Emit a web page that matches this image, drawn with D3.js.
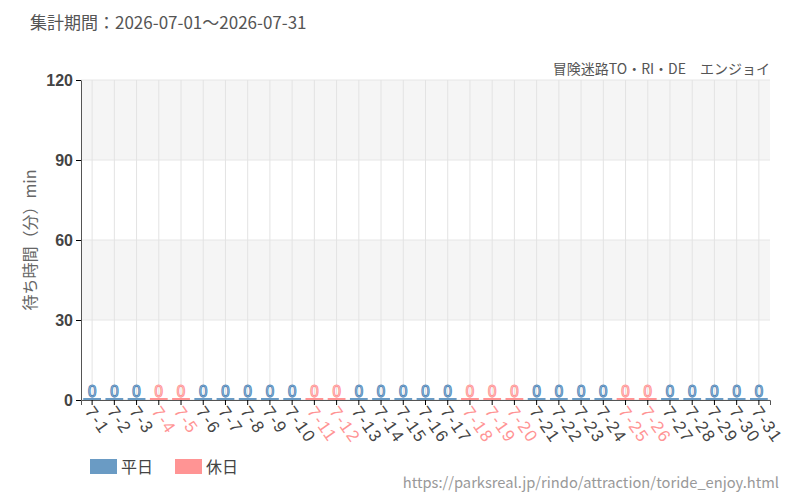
<!DOCTYPE html>
<html>
<head>
<meta charset="utf-8">
<script src="https://cdn.jsdelivr.net/npm/d3@7"></script>
<style>
  body { margin: 0; background: #fff; }
  svg { font-family: "Noto Sans CJK JP", "Noto Sans", sans-serif; }
</style>
</head>
<body>
<div id="chart"></div>
<script>
// chart data
const days = ['7-1','7-2','7-3','7-4','7-5','7-6','7-7','7-8','7-9','7-10','7-11','7-12','7-13','7-14','7-15','7-16',
  '7-17','7-18','7-19','7-20','7-21','7-22','7-23','7-24','7-25','7-26','7-27','7-28','7-29','7-30','7-31'];
const waitTimes = [0,0,0,0,0,0,0,0,0,0,0,0,0,0,0,0,0,0,0,0,0,0,0,0,0,0,0,0,0,0,0];
const holidays = ['7-4','7-5','7-11','7-12','7-18','7-19','7-20','7-25','7-26'];
const yTicks = [0, 30, 60, 90, 120];
const legendItems = ['平日', '休日'];

const width = 800;
const height = 500;
const margin = {top: 80, right: 30, bottom: 100, left: 81};
const colWeek = '#6a9bc4';
const colHoli = '#ff9494';

const svg = d3.select('#chart').append('svg')
  .attr('width', width)
  .attr('height', height);

const data = days.map((d, i) => ({day: d, value: waitTimes[i], holiday: holidays.includes(d)}));

const x = d3.scaleBand().domain(days)
  .range([margin.left, width - margin.right]);
const y = d3.scaleLinear().domain([0, 120])
  .range([height - margin.bottom, margin.top]);

// alternating bands
const bands = d3.pairs(yTicks);
svg.append('g').selectAll('rect').data(bands).join('rect')
  .attr('x', margin.left)
  .attr('width', width - margin.right - margin.left)
  .attr('y', d => y(d[1]))
  .attr('height', d => y(d[0]) - y(d[1]))
  .attr('fill', (d, i) => i % 2 === 1 ? '#f5f5f5' : '#fff');

// grid lines
svg.append('g').selectAll('line').data(yTicks).join('line')
  .attr('x1', margin.left).attr('x2', width - margin.right)
  .attr('y1', d => y(d)).attr('y2', d => y(d))
  .attr('stroke', '#e6e6e6');
svg.append('g').selectAll('line').data(days).join('line')
  .attr('x1', d => x(d) + x.bandwidth() / 2).attr('x2', d => x(d) + x.bandwidth() / 2)
  .attr('y1', y(120)).attr('y2', y(0))
  .attr('stroke', '#e3e3e3');

// bars (zero values show as a thin line on the baseline)
svg.append('g').selectAll('rect').data(data).join('rect')
  .attr('x', d => x(d.day) + x.bandwidth() * 0.1)
  .attr('width', x.bandwidth() * 0.8)
  .attr('y', d => Math.min(y(d.value), y(0) - 2))
  .attr('height', d => Math.max(y(0) - y(d.value), 2))
  .attr('fill', d => d.holiday ? colHoli : colWeek);

// value labels
svg.append('g').selectAll('text').data(data).join('text')
  .attr('x', d => x(d.day) + x.bandwidth() / 2)
  .attr('y', d => y(d.value) - 3)
  .attr('text-anchor', 'middle')
  .attr('font-size', 16)
  .attr('fill', '#fff')
  .attr('stroke', d => d.holiday ? colHoli : '#4f86b8')
  .attr('stroke-width', 1)
  .text(d => d.value);

// axes
const xAxis = svg.append('g')
  .attr('transform', 'translate(0,' + y(0) + ')')
  .call(d3.axisBottom(x).tickSizeOuter(0).tickSize(5));
xAxis.select('.domain').attr('stroke', '#555');
xAxis.selectAll('.tick line').attr('stroke', '#000');
xAxis.selectAll('.tick text')
  .attr('font-size', 17)
  .attr('letter-spacing', '1.5px')
  .attr('fill', d => holidays.includes(d) ? colHoli : '#444')
  .attr('text-anchor', 'start')
  .attr('x', 0).attr('y', 0)
  .attr('dy', '0.35em')
  .attr('transform', 'translate(-3,8) rotate(55)');

const yAxis = svg.append('g')
  .attr('transform', 'translate(' + margin.left + ',0)')
  .call(d3.axisLeft(y).tickValues(yTicks).tickSize(5).tickSizeOuter(0));
yAxis.select('.domain').attr('stroke', '#555');
yAxis.selectAll('.tick line').attr('stroke', '#000');
yAxis.selectAll('.tick text')
  .attr('font-size', 16)
  .attr('font-weight', 'bold')
  .attr('fill', '#444')
  .attr('x', -8);

// titles
svg.append('text')
  .attr('x', 30).attr('y', 29)
  .attr('font-size', 17).attr('fill', '#555')
  .text('集計期間：2026-07-01～2026-07-31');

svg.append('text')
  .attr('x', width - margin.right).attr('y', 74)
  .attr('text-anchor', 'end')
  .attr('font-size', 14).attr('fill', '#555')
  .text('冒険迷路TO・RI・DE　エンジョイ');

svg.append('text')
  .attr('transform', 'translate(36,' + (y(60)) + ') rotate(-90)')
  .attr('text-anchor', 'middle')
  .attr('font-size', 16).attr('fill', '#666')
  .text('待ち時間（分）min');

// legend
const legend = svg.append('g').attr('transform', 'translate(90,459)');
legendItems.forEach((name, i) => {
  const g = legend.append('g').attr('transform', 'translate(' + (i * 85) + ',0)');
  g.append('rect').attr('width', 27).attr('height', 15)
    .attr('fill', i === 0 ? colWeek : colHoli);
  g.append('text').attr('x', 31).attr('y', 14)
    .attr('font-size', 16).attr('fill', '#444')
    .text(name);
});

svg.append('text')
  .attr('x', 779).attr('y', 488)
  .attr('text-anchor', 'end')
  .attr('font-size', 14.7).attr('fill', '#999')
  .text('https://parksreal.jp/rindo/attraction/toride_enjoy.html');
</script>
</body>
</html>
